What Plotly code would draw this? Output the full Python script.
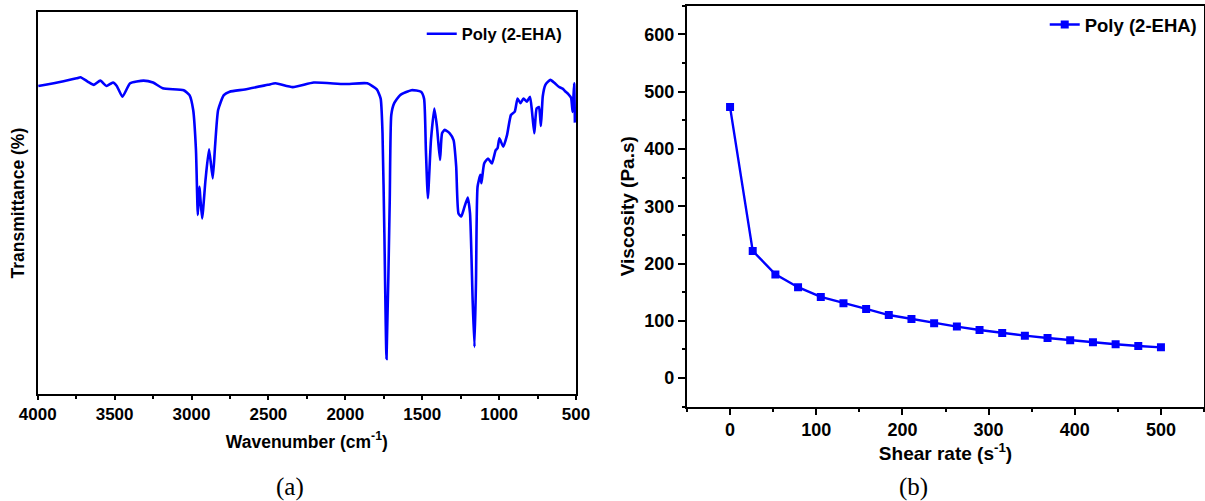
import plotly.graph_objects as go

# FTIR spectrum of Poly (2-EHA) (transmittance in arbitrary %)
wavenumber = [3996, 3872, 3747, 3722, 3673, 3635, 3593, 3553, 3511, 3486, 3449, 3399,
              3312, 3250, 3187, 3051, 3013, 2989, 2971, 2959, 2949, 2931, 2909, 2886,
              2862, 2847, 2827, 2790, 2752, 2653, 2504, 2454, 2342, 2205, 2006, 1857,
              1795, 1770, 1758, 1746, 1732, 1711, 1701, 1682, 1644, 1570, 1508, 1488,
              1476, 1463, 1443, 1421, 1404, 1384, 1371, 1353, 1321, 1296, 1279, 1264,
              1246, 1229, 1204, 1189, 1172, 1160, 1150, 1140, 1122, 1115, 1097, 1072,
              1047, 1022, 1010, 998, 973, 948, 923, 898, 880, 861, 841, 819, 799, 786,
              771, 756, 741, 728, 716, 699, 667, 637, 612, 587, 567, 550, 532, 522,
              512, 507]
transmittance = [80.7, 81.6, 82.7, 83.0, 81.8, 81.0, 82.1, 80.7, 81.6, 80.7, 77.9, 81.4,
                 82.1, 81.6, 80.1, 79.6, 78.3, 74.4, 63.9, 46.9, 54.3, 46.0, 56.1, 64.1,
                 56.5, 64.8, 74.4, 78.3, 79.2, 79.8, 81.0, 81.4, 80.4, 81.6, 81.2, 81.4,
                 79.8, 77.4, 68.3, 42.1, 9.2, 50.8, 73.1, 76.2, 78.3, 79.6, 79.2, 77.4,
                 63.9, 51.3, 66.5, 74.8, 70.0, 61.3, 68.3, 69.2, 68.3, 66.5, 59.6, 47.3,
                 46.5, 48.5, 51.5, 47.3, 24.6, 12.3, 30.0, 54.3, 57.4, 55.2, 60.4, 61.7,
                 60.4, 63.9, 64.4, 67.0, 64.8, 67.9, 73.1, 74.0, 77.4, 76.2, 77.4, 76.6,
                 77.9, 74.0, 68.3, 74.8, 75.2, 70.2, 78.0, 81.0, 82.3, 81.4, 80.5, 80.0,
                 79.2, 78.6, 77.6, 73.9, 81.4, 71.1]

# viscosity vs shear rate
shear_rate = [0, 26.3, 52.6, 78.9, 105.3, 131.6, 157.9, 184.2, 210.5, 236.8, 263.2,
              289.5, 315.8, 342.1, 368.4, 394.7, 421.1, 447.4, 473.7, 500]
viscosity = [473, 222, 181, 158.6, 141.7, 130.6, 120.7, 110, 103, 95.6, 89.8,
             84, 78.7, 74, 70, 66, 62.4, 59, 56, 53.6]

blue = '#0000FF'
font_a = dict(family='Liberation Sans, Arial', size=17, color='black', weight='bold')
font_b = dict(font_a, size=18)
font_label_a = dict(font_a, size=17.5)
font_label_b = dict(font_a, size=19)
font_panel = dict(family='Liberation Serif, Times New Roman', size=25, color='black',
                  weight='normal')

fig = go.Figure()

fig.add_trace(go.Scatter(
    x=wavenumber, y=transmittance,
    mode='lines', line=dict(color=blue, width=2.6, shape='spline', smoothing=0.5),
    name='Poly (2-EHA)', xaxis='x', yaxis='y', legend='legend', showlegend=True,
))

fig.add_trace(go.Scatter(
    x=shear_rate, y=viscosity,
    mode='lines+markers', line=dict(color=blue, width=2.4),
    marker=dict(symbol='square', size=8, color=blue),
    name='Poly (2-EHA)', xaxis='x2', yaxis='y2', legend='legend2', showlegend=True,
))

axis_common = dict(showline=True, linecolor='black', linewidth=2, mirror=True,
                   showgrid=False, zeroline=False,
                   tickcolor='black', tickwidth=2, automargin=False)

fig.update_layout(
    width=1205,
    height=501,
    paper_bgcolor='white',
    plot_bgcolor='white',
    margin=dict(l=0, r=0, t=0, b=0, autoexpand=False),
    showlegend=True,
    font=font_a,
    xaxis=dict(
        axis_common, domain=[0.0313, 0.4780], anchor='y', tickfont=font_a,
        range=[4000, 500], tickvals=[4000, 3500, 3000, 2500, 2000, 1500, 1000, 500],
        ticks='outside', ticklen=4,
        minor=dict(tickvals=[3750, 3250, 2750, 2250, 1750, 1250, 750], ticks='outside',
                   ticklen=3, tickcolor='black', tickwidth=2),
        title=dict(text='Wavenumber (cm<sup>-1</sup>)', font=font_label_a, standoff=12),
    ),
    yaxis=dict(
        axis_common, domain=[0.2136, 0.9754], anchor='x',
        range=[0, 100], showticklabels=False, ticks='',
        title=dict(text='Transmittance (%)', font=font_label_a, standoff=7),
    ),
    xaxis2=dict(
        axis_common, domain=[0.5701, 0.9992], anchor='y2', tickfont=font_b,
        range=[-50, 550], tickvals=[0, 100, 200, 300, 400, 500],
        ticks='outside', ticklen=6,
        minor=dict(tickvals=[-50, 50, 150, 250, 350, 450, 550], ticks='outside',
                   ticklen=3, tickcolor='black', tickwidth=2),
        title=dict(text='Shear rate (s<sup>-1</sup>)', font=font_label_b, standoff=0),
    ),
    yaxis2=dict(
        axis_common, domain=[0.1882, 0.9886], anchor='x2', tickfont=font_b,
        range=[-50, 650], tickvals=[0, 100, 200, 300, 400, 500, 600],
        ticks='outside', ticklen=7,
        minor=dict(tickvals=[-50, 50, 150, 250, 350, 450, 550, 650], ticks='outside',
                   ticklen=3, tickcolor='black', tickwidth=2),
        title=dict(text='Viscosity (Pa.s)', font=font_label_b, standoff=5),
    ),
    legend=dict(x=0.35, y=0.967, xanchor='left', yanchor='top', visible=True,
                bgcolor='rgba(0,0,0,0)', font=dict(font_a, size=16.5)),
    legend2=dict(x=0.867, y=0.988, xanchor='left', yanchor='top', visible=True,
                 bgcolor='rgba(0,0,0,0)', font=dict(font_a, size=18.5)),
    annotations=[
        dict(text='(a)', x=0.241, y=0.028, xref='paper', yref='paper', showarrow=False,
             xanchor='center', yanchor='middle', font=font_panel),
        dict(text='(b)', x=0.758, y=0.028, xref='paper', yref='paper', showarrow=False,
             xanchor='center', yanchor='middle', font=font_panel),
    ],
)

# the page body has a default 8px margin; drop it so the figure fills the window
fig.write_html("out.html", config={'displayModeBar': False},
               post_script="document.body.style.margin='0';")
